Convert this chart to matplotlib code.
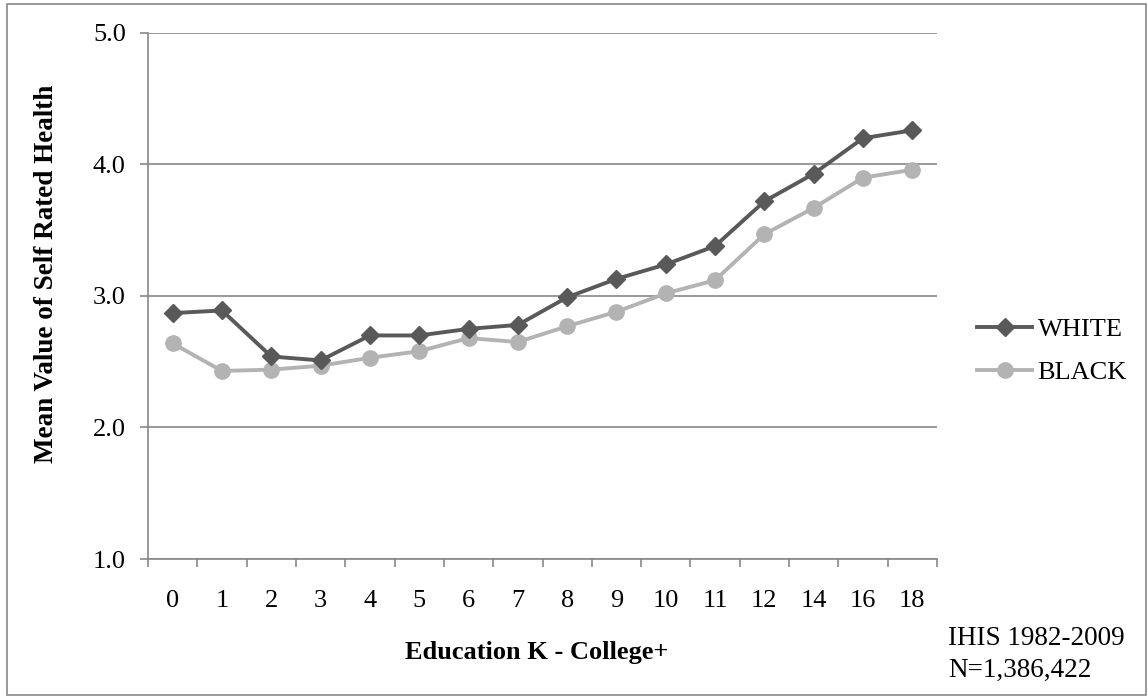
import matplotlib
matplotlib.use('Agg')
from matplotlib import pyplot as plt
from matplotlib.patches import Rectangle
import numpy as np

# years of education (K - College+) and mean self rated health
categories = ['0', '1', '2', '3', '4', '5', '6', '7', '8', '9', '10', '11', '12', '14', '16', '18']
white = [2.87, 2.89, 2.54, 2.51, 2.70, 2.70, 2.75, 2.78, 2.99, 3.13, 3.24, 3.38, 3.72, 3.93, 4.20, 4.26]
black = [2.64, 2.43, 2.44, 2.47, 2.53, 2.58, 2.68, 2.65, 2.77, 2.88, 3.02, 3.12, 3.47, 3.67, 3.90, 3.96]
y_ticks = [1.0, 2.0, 3.0, 4.0, 5.0]

plt.rcParams['font.family'] = ['Liberation Serif', 'DejaVu Serif']
plt.rcParams['font.size'] = 19

W, H = 1148, 696
fig = plt.figure(figsize=(W / 100, H / 100), dpi=100)
ax = fig.add_axes([148 / W, 1 - 559 / H, (937 - 148) / W, (559 - 33) / H])

grid_col = '#878787'
x = np.arange(len(categories))

ax.plot(x, white, color='#595959', lw=2.8, marker='D', ms=9.5, label='WHITE', zorder=4)
ax.plot(x, black, color='#b3b3b3', lw=2.8, marker='o', ms=11, label='BLACK', zorder=3)

ax.set_xlim(-0.5, len(categories) - 0.5)
ax.set_ylim(1, 5)
ax.set_yticks(y_ticks)
ax.set_yticklabels(['%.1f' % v for v in y_ticks])
ax.set_xticks(x)
ax.set_xticklabels(categories)
ax.set_xticks(np.arange(-0.5, len(categories)), minor=True)
ax.tick_params(axis='x', which='major', length=0, pad=22)
ax.tick_params(axis='x', which='minor', length=6, width=1.2, color=grid_col, direction='out')
ax.tick_params(axis='y', length=6, width=1.2, color=grid_col, pad=10)

ax.yaxis.grid(True, color=grid_col, lw=1.2)
ax.set_axisbelow(True)
for s in ['top', 'right']:
    ax.spines[s].set_visible(False)
for s in ['left', 'bottom']:
    ax.spines[s].set_color(grid_col)
    ax.spines[s].set_linewidth(1.2)

fig.text(47 / W, 1 - 274 / H, 'Mean Value of Self Rated Health', rotation=90,
         ha='center', va='center', fontweight='bold', fontsize=19.5)
fig.text(537 / W, 1 - 659 / H, 'Education K - College+', ha='center', va='baseline',
         fontweight='bold')
fig.text(948 / W, 1 - 645 / H, 'IHIS 1982-2009', ha='left', va='baseline', fontsize=19.5)
fig.text(948 / W, 1 - 677 / H, 'N=1,386,422', ha='left', va='baseline', fontsize=19.5)

ax.legend(loc='center left', bbox_to_anchor=(977 / W, 1 - 351 / H),
          bbox_transform=fig.transFigure, frameon=False, borderpad=0,
          borderaxespad=0, handlelength=2.1, handletextpad=0.2, labelspacing=0.75)

fig.patches.append(Rectangle((7 / W, 1 / H), 1139 / W, 691 / H, transform=fig.transFigure,
                             fill=False, edgecolor=grid_col, lw=1.2))

plt.savefig('out.png', dpi=100)
